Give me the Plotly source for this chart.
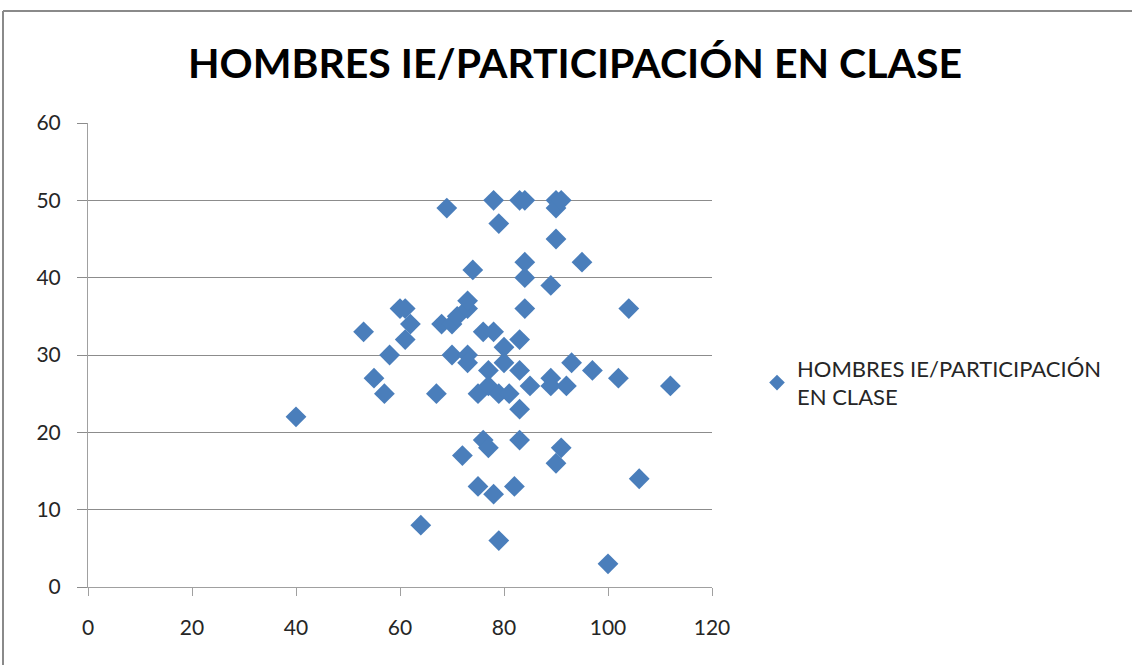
import plotly.graph_objects as go

# Inteligencia emocional (IE) vs. participación en clase, hombres
ie_score = [
    40, 53, 55, 57, 58, 60, 61, 61, 62, 64,
    67, 68, 69, 70, 70, 71, 72, 73, 73, 73,
    73, 74, 75, 75, 76, 76, 77, 77, 77, 78,
    78, 78, 79, 79, 79, 80, 80, 81, 82, 83,
    83, 83, 83, 83, 84, 84, 84, 84, 85, 89,
    89, 89, 90, 90, 90, 90, 91, 91, 92, 93,
    95, 97, 100, 102, 104, 106, 112,
]
participacion = [
    22, 33, 27, 25, 30, 36, 36, 32, 34, 8,
    25, 34, 49, 34, 30, 35, 17, 36, 37, 30,
    29, 41, 25, 13, 33, 19, 28, 26, 18, 50,
    33, 12, 47, 25, 6, 31, 29, 25, 13, 50,
    32, 28, 23, 19, 50, 42, 40, 36, 26, 39,
    27, 26, 50, 49, 45, 16, 50, 18, 26, 29,
    42, 28, 3, 27, 36, 14, 26,
]

series_name = "HOMBRES IE/PARTICIPACIÓN<br>EN CLASE"
title_text = "HOMBRES IE/PARTICIPACIÓN EN CLASE"
x_ticks = [0, 20, 40, 60, 80, 100, 120]
y_ticks = [0, 10, 20, 30, 40, 50, 60]

W, H = 1132, 665
L, R, T, B = 88, 420, 123, 78
pw, ph = W - L - R, H - T - B

fig = go.Figure(
    go.Scatter(
        x=ie_score,
        y=participacion,
        mode="markers",
        name=series_name,
        showlegend=True,
        marker=dict(symbol="diamond", size=16, color="#4a7ebb", line=dict(width=0)),
    )
)

font_family = "Lato, 'Open Sans', sans-serif"

fig.update_layout(
    width=W,
    height=H,
    margin=dict(l=L, r=R, t=T, b=B),
    paper_bgcolor="white",
    plot_bgcolor="white",
    font=dict(family=font_family, color="#262626", size=21),
    title=dict(
        text="<b>" + title_text + "</b>",
        font=dict(family=font_family, size=41, color="black"),
        x=(575 / W),
        xanchor="center",
        y=1 - 64 / H,
        yanchor="middle",
    ),
    showlegend=True,
    legend=dict(
        x=(757 - L) / pw,
        y=(587 - 383) / ph,
        xanchor="left",
        yanchor="middle",
        font=dict(family=font_family, size=22, color="#262626"),
        itemsizing="constant",
        bgcolor="rgba(0,0,0,0)",
    ),
    xaxis=dict(
        range=[0, 120],
        tickvals=x_ticks,
        showgrid=False,
        zeroline=False,
        showline=True,
        linecolor="#a0a0a0",
        linewidth=1,
        ticks="outside",
        ticklen=8,
        tickcolor="#a0a0a0",
        tickfont=dict(size=21),
        ticklabelstandoff=14,
    ),
    yaxis=dict(
        range=[0, 60],
        tickvals=y_ticks,
        showgrid=True,
        gridcolor="#8c8c8c",
        gridwidth=1,
        zeroline=False,
        showline=True,
        linecolor="#a0a0a0",
        linewidth=1,
        ticks="outside",
        ticklen=10,
        tickcolor="#8c8c8c",
        tickfont=dict(size=21),
        ticklabelstandoff=12,
    ),
    shapes=[
        # chart frame: top and left edges
        dict(type="line", xref="paper", yref="paper",
             x0=(3 - L) / pw, x1=(W + 5 - L) / pw,
             y0=(H - B - 11) / ph, y1=(H - B - 11) / ph,
             line=dict(color="#8a8a8a", width=2)),
        dict(type="line", xref="paper", yref="paper",
             x0=(3 - L) / pw, x1=(3 - L) / pw,
             y0=(H - B - 11) / ph, y1=(H - B - H - 10) / ph,
             line=dict(color="#8a8a8a", width=2)),
    ],
)

fig.write_html("out.html")
